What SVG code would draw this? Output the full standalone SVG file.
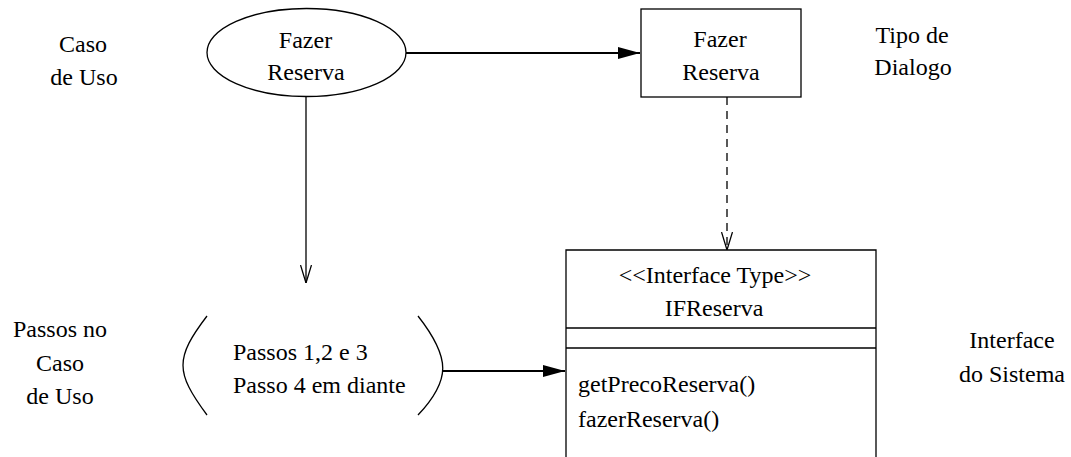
<svg xmlns="http://www.w3.org/2000/svg" width="1071" height="457" viewBox="0 0 1071 457">
<style>
text{font-family:'Liberation Serif','Times New Roman','DejaVu Serif',serif;font-size:24px;fill:#000}
.c{text-anchor:middle}
.s{fill:none;stroke:#000;stroke-width:1.3}
.t{fill:none;stroke:#000;stroke-width:2.2}
</style>
<defs>
<marker id="fill" viewBox="0 0 22 12" refX="22" refY="6" markerWidth="22" markerHeight="12" markerUnits="userSpaceOnUse" orient="auto">
<path d="M0,0 L22,6 L0,12 Z" fill="#000"/>
</marker>
<marker id="open" viewBox="0 0 18 12" refX="18" refY="6" markerWidth="18" markerHeight="12" markerUnits="userSpaceOnUse" orient="auto">
<path d="M0,0.5 L18,6 L0,11.5" fill="none" stroke="#000" stroke-width="1.3"/>
</marker>
</defs>
<rect width="1071" height="457" fill="#fff"/>
<g id="labels">
<text class="c" x="83" y="52">Caso</text>
<text class="c" x="84" y="85">de Uso</text>
<text class="c" x="912" y="43">Tipo de</text>
<text class="c" x="913" y="75">Dialogo</text>
<text class="c" x="60" y="337">Passos no</text>
<text class="c" x="60" y="371">Caso</text>
<text class="c" x="60" y="404">de Uso</text>
<text class="c" x="1012" y="348">Interface</text>
<text class="c" x="1012" y="382">do Sistema</text>
</g>
<g id="usecase">
<ellipse class="s" cx="306.5" cy="52.5" rx="99.5" ry="44"/>
<text class="c" x="305.5" y="48">Fazer</text>
<text class="c" x="306" y="80">Reserva</text>
</g>
<g id="dialog">
<rect class="s" x="641" y="9" width="160" height="88"/>
<text class="c" x="720" y="47">Fazer</text>
<text class="c" x="721" y="80">Reserva</text>
</g>
<g id="steps">
<path class="s" d="M207,316 C175,358 175,372 207,415"/>
<path class="s" d="M418,316 C451,358 451,380 418,415"/>
<text x="233" y="360">Passos 1,2 e 3</text>
<text x="233" y="393">Passo 4 em diante</text>
</g>
<g id="interface">
<path class="s" d="M566,460 L566,250 L876,250 L876,460"/>
<line class="s" x1="566" y1="328" x2="876" y2="328"/>
<line class="s" x1="566" y1="348" x2="876" y2="348"/>
<text class="c" x="715" y="283">&lt;&lt;Interface Type&gt;&gt;</text>
<text class="c" x="714" y="316">IFReserva</text>
<text x="578" y="392">getPrecoReserva()</text>
<text x="578" y="427">fazerReserva()</text>
</g>
<g id="connectors">
<line class="t" x1="406" y1="53" x2="640" y2="53" marker-end="url(#fill)"/>
<line class="s" x1="306" y1="97" x2="306" y2="283" marker-end="url(#open)"/>
<line class="s" x1="727" y1="97" x2="727" y2="250" stroke-dasharray="8,6" marker-end="url(#open)"/>
<line class="t" x1="443" y1="371" x2="565" y2="371" marker-end="url(#fill)"/>
</g>
</svg>
